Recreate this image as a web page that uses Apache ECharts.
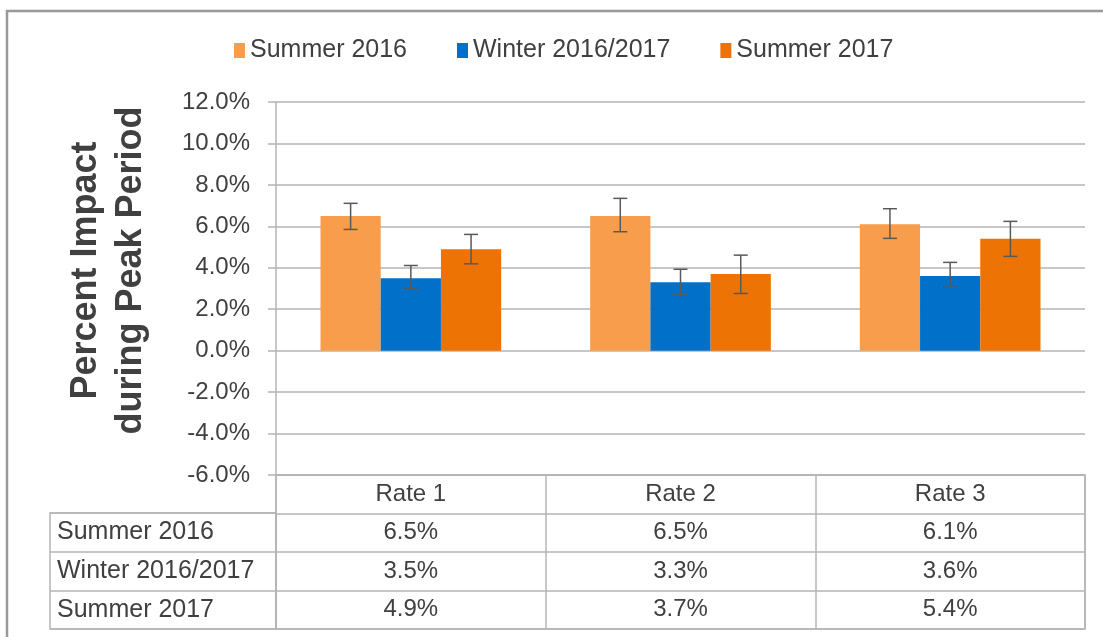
<!DOCTYPE html>
<html>
<head>
<meta charset="utf-8">
<script src="https://cdn.jsdelivr.net/npm/echarts@6/dist/echarts.min.js"></script>
<style>
    html, body { margin: 0; padding: 0; background: #fff; }
    #chart { width: 1103px; height: 637px; }
</style>
</head>
<body>
<div id="chart"></div>
<script>
// 数据
var categories = ['Rate 1', 'Rate 2', 'Rate 3'];
var seriesNames = ['Summer 2016', 'Winter 2016/2017', 'Summer 2017'];
var summer2016 = [6.5, 6.5, 6.1];
var winter2016 = [3.5, 3.3, 3.6];
var summer2017 = [4.9, 3.7, 5.4];
// 误差线 (下限 / 上限)
var summer2016Low = [5.85, 5.74, 5.42];
var summer2016High = [7.11, 7.35, 6.85];
var winter2016Low = [3.0, 2.69, 3.06];
var winter2016High = [4.11, 3.93, 4.26];
var summer2017Low = [4.19, 2.76, 4.55];
var summer2017High = [5.61, 4.61, 6.24];
var yTicks = [-6, -4, -2, 0, 2, 4, 6, 8, 10, 12];

document.addEventListener('DOMContentLoaded', function () {
    initChart();
});

function initChart() {
    const chartDom = document.getElementById('chart');
    const myChart = echarts.init(chartDom);

    const colors = ['#F79D4B', '#0070C8', '#EE7305'];
    const textColor = '#404040';
    const lineColor = '#b4b4b4';
    const font = 'Liberation Sans, Arial, sans-serif';

    var values = [summer2016, winter2016, summer2017];
    var lows = [summer2016Low, winter2016Low, summer2017Low];
    var highs = [summer2016High, winter2016High, summer2017High];

    // 误差线数据
    var errData = [];
    values.forEach(function (v, s) {
        v.forEach(function (val, i) {
            errData.push([i, lows[s][i], highs[s][i], s]);
        });
    });

    // 表格单元格: [列, 行, 文本]
    var cellData = [];
    categories.forEach(function (c, i) {
        cellData.push([i, 0, c]);
    });
    values.forEach(function (v, s) {
        v.forEach(function (val, i) {
            cellData.push([i, s + 1, val.toFixed(1) + '%']);
        });
    });
    var rowLabelData = seriesNames.map(function (n, s) { return [0, s, n]; });

    var barSeries = values.map(function (v, s) {
        return {
            name: seriesNames[s],
            type: 'bar',
            xAxisIndex: 0,
            yAxisIndex: 0,
            data: v,
            barGap: '0%',
            barCategoryGap: '33%',
            itemStyle: { color: colors[s] },
            z: 2
        };
    });

    const option = {
        backgroundColor: '#fff',
        textStyle: { fontFamily: font },
        animation: false,
        legend: {
            top: 33,
            left: 229,
            itemWidth: 11,
            itemHeight: 15,
            itemGap: 50,
            icon: 'rect',
            textStyle: { color: textColor, fontSize: 25, fontFamily: font },
            data: seriesNames
        },
        grid: [
            { left: 276, right: 18, top: 102, bottom: 162 },
            { left: 276, right: 18, top: 475, bottom: 8, show: true, borderColor: lineColor, borderWidth: 1.5 },
            { left: 50, width: 226, top: 513, bottom: 8, show: true, borderColor: lineColor, borderWidth: 1.5 }
        ],
        xAxis: [
            {
                gridIndex: 0, type: 'category', data: categories,
                axisLine: { show: false }, axisTick: { show: false },
                axisLabel: { show: false }, splitLine: { show: false }
            },
            {
                gridIndex: 1, type: 'category', data: categories,
                axisLine: { show: false }, axisTick: { show: false },
                axisLabel: { show: false },
                splitLine: { show: true, lineStyle: { color: lineColor, width: 1.5 } }
            },
            {
                gridIndex: 2, type: 'category', data: [''],
                axisLine: { show: false }, axisTick: { show: false },
                axisLabel: { show: false }, splitLine: { show: false }
            }
        ],
        yAxis: [
            {
                gridIndex: 0, type: 'value', min: -6, max: 12, interval: 2,
                name: 'Percent Impact\nduring Peak Period',
                nameLocation: 'middle',
                nameGap: 122,
                nameTextStyle: {
                    color: textColor, fontSize: 36, fontWeight: 'bold',
                    lineHeight: 45, fontFamily: font, padding: [0, 0, 0, 36]
                },
                axisLine: { show: true, lineStyle: { color: lineColor, width: 1.5 } },
                axisTick: { show: true, length: 8, lineStyle: { color: lineColor, width: 1.5 } },
                axisLabel: {
                    color: textColor, fontSize: 24, margin: 26,
                    formatter: function (v) { return v.toFixed(1) + '%'; }
                },
                splitLine: { show: true, lineStyle: { color: lineColor, width: 1.5 } }
            },
            {
                gridIndex: 1, type: 'category', data: ['', seriesNames[0], seriesNames[1], seriesNames[2]],
                inverse: true,
                axisLine: { show: false }, axisTick: { show: false },
                axisLabel: { show: false },
                splitLine: { show: true, lineStyle: { color: lineColor, width: 1.5 } }
            },
            {
                gridIndex: 2, type: 'category', data: seriesNames,
                inverse: true,
                axisLine: { show: false }, axisTick: { show: false },
                axisLabel: { show: false },
                splitLine: { show: true, lineStyle: { color: lineColor, width: 1.5 } }
            }
        ],
        graphic: [
            {
                type: 'rect',
                shape: { x: 7, y: 11, width: 1200, height: 700 },
                style: { fill: 'none', stroke: '#999', lineWidth: 2.5 },
                silent: true
            }
        ],
        series: barSeries.concat([
            {
                // 误差线
                type: 'custom',
                xAxisIndex: 0,
                yAxisIndex: 0,
                data: errData,
                z: 5,
                renderItem: function (params, api) {
                    var catW = api.size([1, 0])[0];
                    var barW = catW * (1 - 0.33) / 3;
                    var s = api.value(3);
                    var low = api.coord([api.value(0), api.value(1)]);
                    var high = api.coord([api.value(0), api.value(2)]);
                    var x = low[0] + (s - 1) * barW;
                    var cap = 7;
                    var style = { stroke: '#595959', lineWidth: 1.5 };
                    return {
                        type: 'group',
                        children: [
                            { type: 'line', shape: { x1: x, y1: low[1], x2: x, y2: high[1] }, style: style },
                            { type: 'line', shape: { x1: x - cap, y1: low[1], x2: x + cap, y2: low[1] }, style: style },
                            { type: 'line', shape: { x1: x - cap, y1: high[1], x2: x + cap, y2: high[1] }, style: style }
                        ]
                    };
                }
            },
            {
                // 表格数值
                type: 'custom',
                xAxisIndex: 1,
                yAxisIndex: 1,
                data: cellData,
                renderItem: function (params, api) {
                    var p = api.coord([api.value(0), api.value(1)]);
                    return {
                        type: 'text',
                        x: p[0],
                        y: p[1],
                        style: {
                            text: cellData[params.dataIndex][2],
                            fill: textColor,
                            fontSize: 24,
                            fontFamily: font,
                            align: 'center',
                            verticalAlign: 'middle'
                        }
                    };
                }
            },
            {
                // 表格行标题
                type: 'custom',
                xAxisIndex: 2,
                yAxisIndex: 2,
                data: rowLabelData,
                renderItem: function (params, api) {
                    var p = api.coord([0, api.value(1)]);
                    var w = api.size([1, 0])[0];
                    return {
                        type: 'text',
                        x: p[0] - w / 2 + 7,
                        y: p[1],
                        style: {
                            text: rowLabelData[params.dataIndex][2],
                            fill: textColor,
                            fontSize: 25,
                            fontFamily: font,
                            align: 'left',
                            verticalAlign: 'middle'
                        }
                    };
                }
            }
        ])
    };

    myChart.setOption(option);

    window.addEventListener('resize', function () {
        myChart.resize();
    });
}
</script>
</body>
</html>
